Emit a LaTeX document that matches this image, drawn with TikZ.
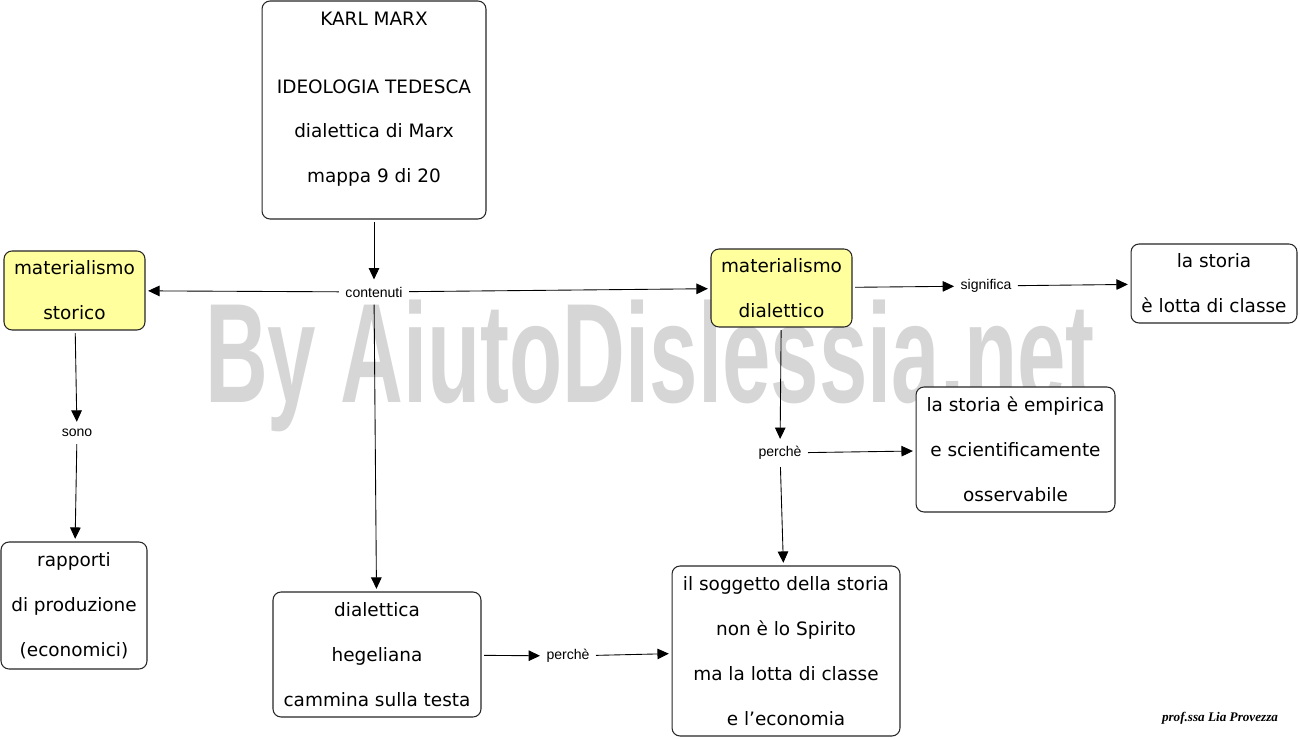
\documentclass[tikz,border=0pt]{standalone}
\usepackage{fontspec}
\setmainfont{DejaVu Sans}
\newfontfamily\linkfont{Liberation Sans}
\newfontfamily\signfont{Liberation Serif}
\usetikzlibrary{arrows.meta}
\definecolor{conceptyellow}{RGB}{255,255,158}
\definecolor{markgray}{RGB}{214,214,214}

\begin{document}
\begin{tikzpicture}[x=0.02cm,y=-0.02cm]
    %
    % `concept' is used for the boxes, `main' for the two yellow ones.
    % `link' is used for the words on the connectors.
    % `conn' is used for the connectors, `watermark' for the grey text behind.
    \tikzstyle{concept} = [draw=black!85,fill=white,rounded corners=1.6mm,line width=0.6pt,align=center,inner sep=0pt,font=\fontsize{10.5}{25.5}\selectfont]
    \tikzstyle{main} = [concept,fill=conceptyellow]
    \tikzstyle{link} = [inner xsep=2pt,inner ysep=2.5pt,font=\linkfont\fontsize{8}{9.6}\selectfont]
    \tikzstyle{conn} = [line width=0.5pt,-{Triangle[length=6.5pt,width=6pt]},shorten >=1.5pt,shorten <=1.5pt]
    \tikzstyle{watermark} = [inner sep=0pt,text=markgray,font=\linkfont\bfseries]
    %
    \useasboundingbox (0,0) rectangle (1300,739);
    %
    % Watermark
    \node[watermark] (wm) at (650,366) {\resizebox*{17.8cm}{2.64cm}{By AiutoDislessia.net}};
    %
    % Top box
    \node[concept,minimum width=4.48cm,minimum height=4.36cm] (marx) at (374,110) {KARL MARX\\[13pt]IDEOLOGIA TEDESCA\\dialettica di Marx\\mappa 9 di 20\\[-11pt]\mbox{}};
    \node[link] (contenuti) at (374,292) {contenuti};
    %
    % Left column
    \node[main,minimum width=2.82cm,minimum height=1.58cm] (storico) at (74.5,290.5) {materialismo\\storico};
    \node[link] (sono) at (77,433) {sono};
    \node[concept,minimum width=2.92cm,minimum height=2.54cm] (rapporti) at (74,605.5) {rapporti\\di produzione\\(economici)};
    %
    % Middle
    \node[concept,minimum width=4.16cm,minimum height=2.5cm] (hegel) at (377,654.5) {dialettica\\hegeliana\\cammina sulla testa};
    \node[link] (perche2) at (568,656) {perchè};
    %
    % Right side
    \node[main,minimum width=2.82cm,minimum height=1.56cm] (dialettico) at (781.5,288) {materialismo\\dialettico};
    \node[link] (significa) at (986,286) {significa};
    \node[concept,minimum width=3.32cm,minimum height=1.58cm] (lotta) at (1214,283.5) {la storia\\è lotta di classe};
    \node[link] (perche1) at (780,453) {perchè};
    \node[concept,minimum width=3.98cm,minimum height=2.5cm] (empirica) at (1015.5,449.5) {la storia è empirica\\e scientificamente\\osservabile};
    \node[concept,minimum width=4.56cm,minimum height=3.4cm] (soggetto) at (786,651) {il soggetto della storia\\non è lo Spirito\\ma la lotta di classe\\e l'economia};
    %
    % Connectors
    \draw[conn] (marx) -- (contenuti);
    \draw[conn] (contenuti) -- (storico);
    \draw[conn] (contenuti) -- (dialettico);
    \draw[conn] (contenuti) -- (hegel);
    \draw[conn] (storico) -- (sono);
    \draw[conn] (sono) -- (rapporti);
    \draw[conn] (hegel) -- (perche2);
    \draw[conn] (perche2) -- (soggetto);
    \draw[conn] (dialettico) -- (significa);
    \draw[conn] (significa) -- (lotta);
    \draw[conn] (dialettico) -- (perche1);
    \draw[conn] (perche1) -- (empirica);
    \draw[conn] (perche1) -- (soggetto);
    %
    % Signature
    \node[font=\signfont\bfseries\itshape\fontsize{7.5}{9}\selectfont] (firma) at (1220,718) {prof.ssa Lia Provezza};
    %
\end{tikzpicture}
\end{document}
